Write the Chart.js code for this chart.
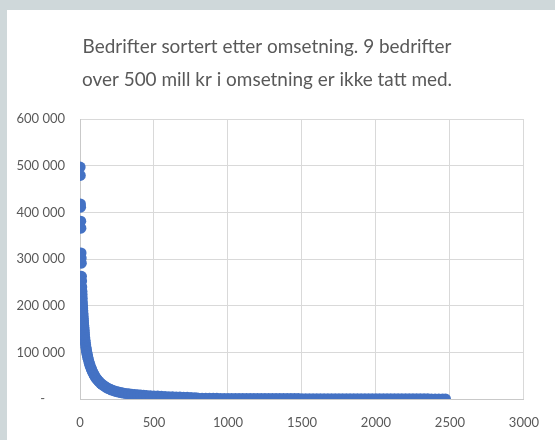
<!DOCTYPE html>
<html>
<head>
<meta charset="utf-8">
<script src="https://cdn.jsdelivr.net/npm/chart.js@4/dist/chart.umd.min.js"></script>
<style>
  html, body { margin: 0; padding: 0; }
  body { width: 555px; height: 440px; background: #cfd8da; position: relative; overflow: hidden; }
  #boks { position: absolute; left: 7px; top: 10px; width: 548px; height: 430px; background: #fff; }
</style>
</head>
<body>
<div id="boks"><canvas id="bedriftChart" width="548" height="430"></canvas></div>
<script>
// Tittel og akser
const tittel = ['Bedrifter sortert etter omsetning. 9 bedrifter', 'over 500 mill kr i omsetning er ikke tatt med.'];
const xTicks = [0, 500, 1000, 1500, 2000, 2500, 3000];
const yTicks = [0, 100000, 200000, 300000, 400000, 500000, 600000];

// Rangering (nr) og omsetning (1000 kr), lest av bildet
const rang = [
  1, 2, 3, 4, 5, 6, 7, 8, 9, 10, 11, 12, 13, 14, 15, 16, 17, 18, 19, 20,
  21, 22, 23, 24, 25, 26, 27, 28, 29, 30, 32, 34, 36, 38, 40, 42, 44, 46, 48, 50,
  53, 56, 60, 64, 68, 72, 76, 80, 85, 90, 95, 100, 106, 112, 118, 125, 132, 140, 148, 156,
  165, 175, 185, 195, 205, 215, 230, 245, 260, 275, 290, 310, 330, 350, 370, 390, 410, 430, 450, 475,
  500, 525, 550, 575, 600, 625, 650, 675, 700, 725, 750, 775, 790, 800, 825, 850, 875, 900, 925, 950,
  975, 1000, 1025, 1050, 1075, 1100, 1125, 1150, 1175, 1200, 1225, 1250, 1275, 1300, 1325, 1350, 1375, 1400, 1425, 1450,
  1475, 1500, 1525, 1550, 1575, 1600, 1625, 1650, 1675, 1700, 1725, 1750, 1775, 1800, 1825, 1850, 1875, 1900, 1925, 1950,
  1975, 2000, 2025, 2050, 2075, 2100, 2125, 2150, 2175, 2200, 2225, 2250, 2275, 2300, 2325, 2350, 2375, 2400, 2425, 2450,
  2470
];
const omsetning = [
  497000, 479000, 418000, 411000, 381000, 366000, 313000, 302000, 291000, 263000, 253000, 240000, 231000, 224000, 216000, 208000, 201000, 195000, 189000, 183000,
  178000, 173000, 168000, 163000, 158000, 154000, 150000, 146000, 142000, 138000, 132000, 126000, 121000, 116000, 111000, 107000, 103000, 100000, 96000, 93000,
  89000, 85000, 80000, 76000, 72000, 68000, 65000, 62000, 58000, 55000, 52000, 49000, 46000, 43500, 41000, 38500, 36000, 33500, 31500, 29500,
  27500, 25500, 23500, 22000, 20500, 19200, 17500, 16000, 14800, 13700, 12800, 11800, 11000, 10300, 9700, 9100, 8600, 8100, 7600, 7100,
  6600, 6200, 5800, 5400, 5000, 4700, 4400, 4100, 3800, 3500, 3200, 2900, 2000, 1600, 1500, 1460, 1420, 1390, 1350, 1320,
  1290, 1260, 1230, 1200, 1170, 1140, 1110, 1090, 1060, 1040, 1010, 990, 970, 950, 930, 910, 890, 870, 850, 830,
  810, 790, 770, 750, 740, 720, 700, 690, 670, 650, 640, 620, 610, 590, 580, 560, 550, 530, 520, 500,
  490, 470, 460, 450, 430, 420, 410, 390, 380, 370, 350, 340, 330, 310, 300, 280, 260, 240, 210, 170,
  100
];

const punkter = rang.map((r, i) => ({ x: r, y: omsetning[i] }));

function tusen(v) {
  if (v === 0) return '-      ';
  return String(v).replace(/\B(?=(\d{3})+(?!\d))/g, ' ');
}

// Egen tittel, sentrert som i Excel
const tittelPlugin = {
  id: 'excelTittel',
  afterDraw(c) {
    const ctx = c.ctx;
    ctx.save();
    ctx.font = '20px Lato';
    const w = ctx.measureText(tittel[0]).width;
    const size = 20 * 369 / w;
    ctx.font = size + 'px Lato';
    ctx.fillStyle = '#595959';
    ctx.textAlign = 'center';
    ctx.textBaseline = 'alphabetic';
    ctx.fillText(tittel[0], 260, 43);
    ctx.fillText(tittel[1], 260, 76);
    ctx.restore();
  }
};

const tickFont = { family: 'Lato', size: 13 };

new Chart(document.getElementById('bedriftChart'), {
  type: 'scatter',
  data: {
    datasets: [{
      data: punkter,
      backgroundColor: '#4472c4',
      borderWidth: 0,
      pointRadius: 5.5,
      pointHoverRadius: 5.5
    }]
  },
  options: {
    responsive: false,
    animation: false,
    layout: { padding: { top: 109, right: 25, left: 0, bottom: 0 } },
    plugins: {
      legend: { display: false },
      tooltip: { enabled: false }
    },
    scales: {
      x: {
        type: 'linear',
        min: 0,
        max: 3000,
        afterBuildTicks: s => { s.ticks = xTicks.map(v => ({ value: v })); },
        afterFit: s => { s.height = 41; },
        grid: { color: '#d9d9d9', drawTicks: false },
        border: { color: '#c9c9c9' },
        ticks: { color: '#595959', font: tickFont, padding: 16, maxRotation: 0, callback: v => String(v) }
      },
      y: {
        min: 0,
        max: 600000,
        afterBuildTicks: s => { s.ticks = yTicks.map(v => ({ value: v })); },
        afterFit: s => { s.width = 73; },
        grid: { color: '#d9d9d9', drawTicks: false },
        border: { color: '#c9c9c9' },
        ticks: { color: '#595959', font: tickFont, padding: 15, callback: v => tusen(v) }
      }
    }
  },
  plugins: [tittelPlugin]
});
</script>
</body>
</html>
